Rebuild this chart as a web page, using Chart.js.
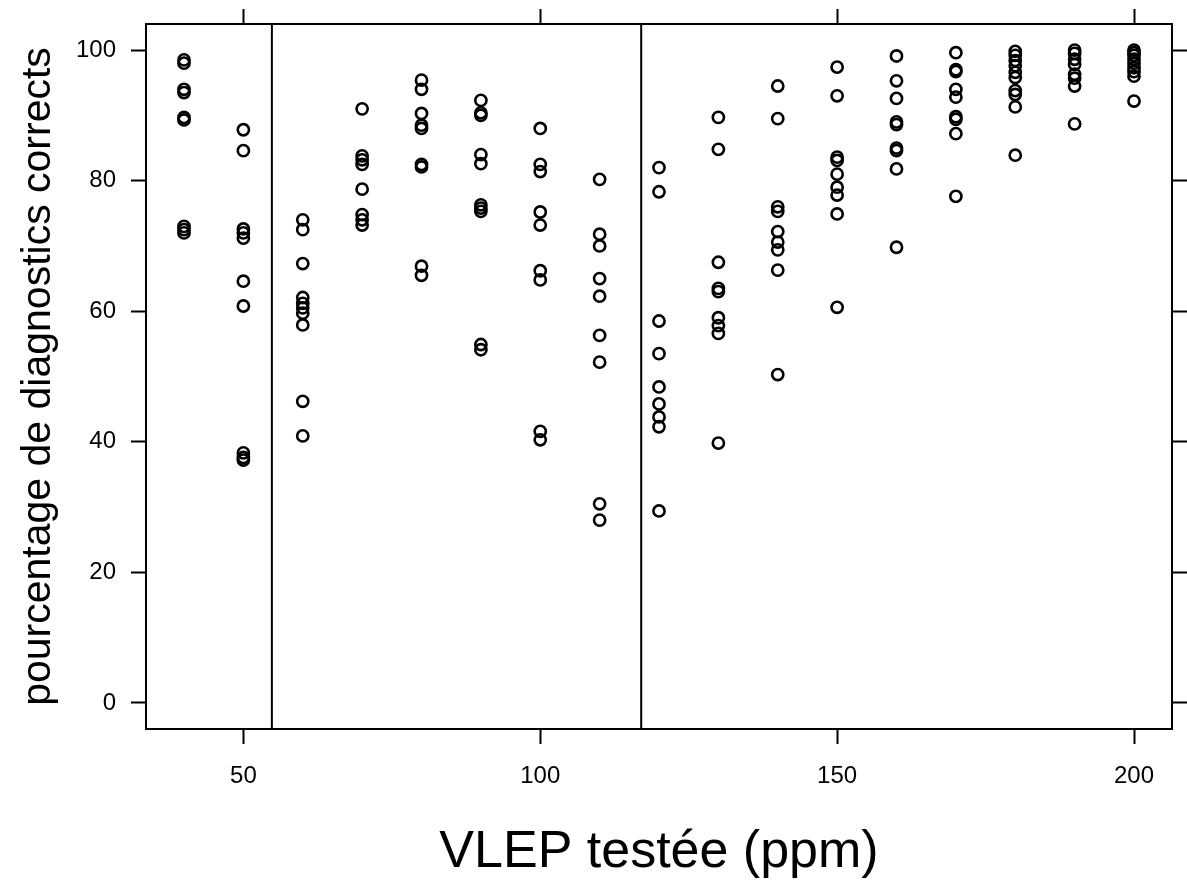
<!DOCTYPE html>
<html>
<head>
<meta charset="utf-8">
<script src="https://cdn.jsdelivr.net/npm/chart.js@4.4.1/dist/chart.umd.min.js"></script>
<style>
  html, body { margin: 0; padding: 0; background: #fff; }
  canvas { display: block; }
</style>
</head>
<body>
<canvas id="vlep-chart" width="1187" height="889"></canvas>
<script>
// VLEP values tested (ppm), one column of points each
let vlep = [40, 50, 60, 70, 80, 90, 100, 110, 120, 130, 140, 150, 160, 170, 180, 190, 200];

// percentage of correct diagnostics, per VLEP value
let pct40 = [98.5, 98.0, 94.0, 93.5, 89.7, 89.3, 73.0, 72.5, 72.0];
let pct50 = [87.8, 84.6, 72.6, 72.0, 71.2, 64.6, 60.8, 38.3, 37.6, 37.2];
let pct60 = [74.0, 72.5, 67.3, 62.1, 61.2, 60.5, 59.7, 57.9, 46.2, 40.9];
let pct70 = [91.0, 83.8, 83.2, 82.5, 78.7, 74.8, 74.0, 73.2];
let pct80 = [95.4, 94.0, 90.3, 88.5, 88.0, 82.5, 82.1, 66.9, 65.5];
let pct90 = [92.3, 90.4, 90.0, 84.0, 82.6, 76.3, 75.8, 75.3, 54.9, 54.1];
let pct100 = [88.0, 82.5, 81.4, 75.2, 73.2, 66.2, 64.8, 41.6, 40.3];
let pct110 = [80.2, 71.8, 70.0, 65.0, 62.3, 56.3, 52.2, 30.5, 28.0];
let pct120 = [82.0, 78.3, 58.5, 53.5, 48.4, 45.8, 43.8, 42.3, 29.4];
let pct130 = [89.7, 84.8, 67.5, 63.5, 63.0, 59.0, 57.8, 56.6, 39.8];
let pct140 = [94.5, 89.5, 76.0, 75.3, 72.2, 70.6, 69.4, 66.3, 50.3];
let pct150 = [97.4, 93.0, 83.6, 83.1, 81.0, 79.0, 77.8, 74.9, 60.6];
let pct160 = [99.1, 95.3, 92.6, 89.0, 88.6, 85.0, 84.6, 81.8, 69.8];
let pct170 = [99.6, 97.0, 96.7, 94.0, 92.8, 89.8, 89.4, 87.2, 77.6];
let pct180 = [99.8, 99.2, 98.4, 97.6, 96.6, 95.8, 93.8, 93.2, 91.3, 83.9];
let pct190 = [100.0, 99.5, 98.6, 97.8, 96.3, 95.7, 94.5, 88.7];
let pct200 = [100.0, 99.6, 99.2, 98.6, 98.0, 97.3, 96.7, 96.0, 92.2];

let columns = [pct40, pct50, pct60, pct70, pct80, pct90, pct100, pct110, pct120,
  pct130, pct140, pct150, pct160, pct170, pct180, pct190, pct200];

// vertical reference lines (ppm)
let cutLines = [54.8, 117.0];

// axes
let xTicks = [50, 100, 150, 200];
let yTicks = [0, 20, 40, 60, 80, 100];
let xRange = [33.6, 206.4];
let yRange = [-4, 104];

let points = [];
for (let i = 0; i < vlep.length; i++) {
  for (let v of columns[i]) {
    points.push({ x: vlep[i], y: v });
  }
}

let datasets = [{
  type: 'scatter',
  data: points,
  pointStyle: 'circle',
  pointRadius: 5.6,
  pointHoverRadius: 5.6,
  borderWidth: 2.6,
  borderColor: '#000',
  backgroundColor: 'rgba(0,0,0,0)'
}];

cutLines.forEach((c) => {
  datasets.push({
    type: 'line',
    data: [{ x: c, y: yRange[0] }, { x: c, y: yRange[1] }],
    borderColor: '#000',
    borderWidth: 2,
    pointRadius: 0,
    fill: false
  });
});

let font = 'Liberation Sans, Arial, sans-serif';

let setTicks = (list) => (scale) => {
  scale.ticks = list.map((v) => ({ value: v }));
};

// fixed box sizes so the plot frame lands where the original one is
let fixSize = (w, h) => (s) => {
  if (w !== null) s.width = w;
  if (h !== null) s.height = h;
  s.paddingTop = 0;
  s.paddingBottom = 0;
  s.paddingLeft = 0;
  s.paddingRight = 0;
};

let edge = {
  color: '#000',
  width: 2
};

let grid = {
  drawOnChartArea: false,
  drawTicks: true,
  tickLength: 15,
  tickWidth: 2,
  tickColor: '#000'
};

var config = {
  type: 'scatter',
  data: { datasets: datasets },
  options: {
    responsive: false,
    animation: false,
    devicePixelRatio: 1,
    layout: { padding: 0 },
    plugins: {
      legend: { display: false },
      tooltip: { enabled: false }
    },
    scales: {
      x: {
        type: 'linear',
        position: 'bottom',
        min: xRange[0],
        max: xRange[1],
        afterBuildTicks: setTicks(xTicks),
        afterFit: fixSize(null, 160),
        grid: grid,
        border: edge,
        ticks: {
          color: '#000',
          padding: 18,
          maxRotation: 0,
          font: { family: font, size: 24 }
        },
        title: {
          display: true,
          text: 'VLEP testée (ppm)',
          color: '#000',
          padding: { top: 0, bottom: 5 },
          font: { family: font, size: 52 }
        }
      },
      xTop: {
        type: 'linear',
        position: 'top',
        min: xRange[0],
        max: xRange[1],
        afterBuildTicks: setTicks(xTicks),
        afterFit: fixSize(null, 24),
        grid: grid,
        border: edge,
        ticks: { display: false }
      },
      y: {
        type: 'linear',
        position: 'left',
        min: yRange[0],
        max: yRange[1],
        afterBuildTicks: setTicks(yTicks),
        afterFit: fixSize(146, null),
        grid: grid,
        border: edge,
        ticks: {
          color: '#000',
          padding: 15,
          font: { family: font, size: 24 }
        },
        title: {
          display: true,
          text: 'pourcentage de diagnostics corrects',
          color: '#000',
          padding: { top: 14, bottom: 0 },
          font: { family: font, size: 41 }
        }
      },
      yRight: {
        type: 'linear',
        position: 'right',
        min: yRange[0],
        max: yRange[1],
        afterBuildTicks: setTicks(yTicks),
        afterFit: fixSize(15, null),
        grid: grid,
        border: edge,
        ticks: { display: false }
      }
    }
  }
};

let ctx = document.getElementById('vlep-chart').getContext('2d');
let chart = new Chart(ctx, config);
</script>
</body>
</html>
